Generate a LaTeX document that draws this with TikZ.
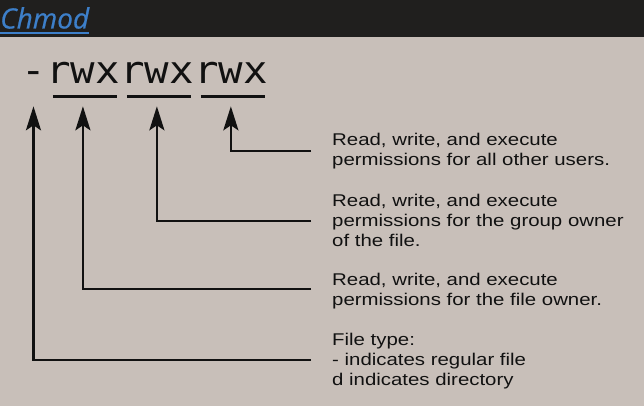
\documentclass[tikz,border=0pt]{standalone}
\usepackage{fontspec}
\usepackage{tikz}
\usetikzlibrary{arrows.meta}
\newfontfamily\descfont{Liberation Sans}[FakeStretch=1.2]
\newfontfamily\permfont{DejaVu Sans Mono}[FakeStretch=1.072]
\newfontfamily\titlefont{Open Sans}[FakeBold=0.6]
\definecolor{bgcol}{RGB}{200,191,185}
\definecolor{bandcol}{RGB}{32,31,30}
\definecolor{titlecol}{RGB}{61,127,201}
\definecolor{inkcol}{RGB}{17,17,17}
\tikzset{
  desc/.style={anchor=base west, inner sep=0pt, align=left, text=inkcol,
    font=\descfont\fontsize{17}{20}\selectfont},
  permchars/.style={anchor=base west, inner sep=0pt, text=inkcol,
    font=\permfont\fontsize{38}{40}\selectfont},
  ubar/.style={line width=3.4pt, inkcol},
  conn/.style={->, line width=2.6pt, inkcol}
}

\begin{document}
\begin{tikzpicture}[x=1pt, y=-1pt,
    >={Stealth[length=24pt, width=15pt, inset=5pt]}]

  % Background and title band.
  \fill[bgcol] (0,0) rectangle (644,406);
  \fill[bandcol] (0,0) rectangle (644,37);
  \useasboundingbox (0,0) rectangle (644,406);

  % Title.
  \node[anchor=base west, inner sep=0pt, text=titlecol,
    font=\titlefont\itshape\fontsize{28}{30}\selectfont] (title) at (0,28.5) {Chmod};
  \draw[titlecol, line width=1.8pt] (0,33) -- (title.east |- 0,33);

  % Permission string.
  \node[permchars] (ftype) at (21,83.3) {-};
  \node[permchars] (user)  at (ftype.base east) {rwx};
  \node[permchars] (group) at (user.base east)  {rwx};
  \node[permchars] (other) at (group.base east) {rwx};

  % Underlines.
  \foreach \g in {user, group, other} {
    \draw[ubar] ([xshift=7pt, yshift=-13pt]\g.base west)
      -- ([xshift=-3pt, yshift=-13pt]\g.base east);
  }

  % Descriptions (base = last line).
  \node[desc] (otherdesc) at (332,165.7)
    {Read, write, and execute\\permissions for all other users.};
  \node[desc] (groupdesc) at (332,246.7)
    {Read, write, and execute\\permissions for the group owner\\of the file.};
  \node[desc] (userdesc) at (332,305.7)
    {Read, write, and execute\\permissions for the file owner.};
  \node[desc] (ftypedesc) at (332,385.5)
    {File type:\\- indicates regular file\\d indicates directory};

  % Connector ends.
  \coordinate (otherline) at (311,151);
  \coordinate (groupline) at (311,221);
  \coordinate (userline)  at (311,289);
  \coordinate (ftypeline) at (311,360);

  % Connectors.
  \draw[conn] (otherline) -| ([yshift=-23pt]other.base);
  \draw[conn] (groupline) -| ([yshift=-23pt]group.base);
  \draw[conn] (userline)  -| ([yshift=-23pt]user.base);
  \draw[conn] (ftypeline) -| ([yshift=-23pt]ftype.base);

\end{tikzpicture}
\end{document}
